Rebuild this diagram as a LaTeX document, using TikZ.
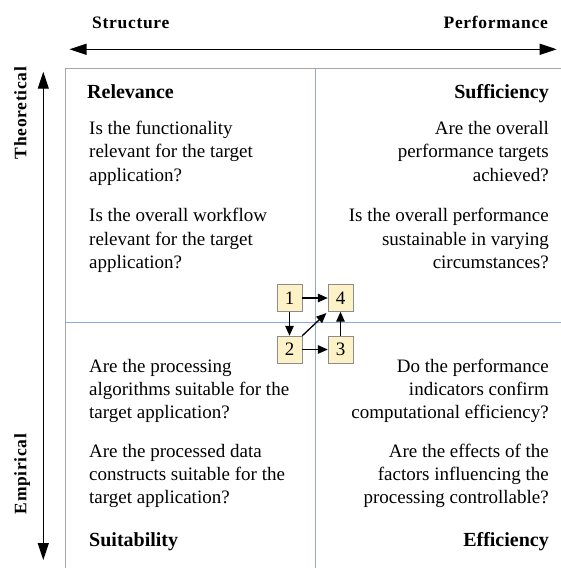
\documentclass[tikz,border=0pt]{standalone}
\usepackage{fontspec}
\setmainfont{Liberation Serif}
\usetikzlibrary{arrows.meta, positioning}

\definecolor{framegray}{RGB}{165,165,165}
\definecolor{divblue}{RGB}{140,170,225}
\definecolor{boxfill}{RGB}{253,241,200}
\definecolor{boxline}{RGB}{140,140,140}

\tikzset{
  axislabel/.style={font=\fontsize{17.5}{20}\selectfont\bfseries\addfontfeature{LetterSpace=4}, inner sep=0pt},
  quadtitle/.style={font=\fontsize{20}{24}\selectfont\bfseries, inner sep=0pt},
  question/.style={font=\fontsize{19}{23.3}\selectfont, inner sep=0pt},
  stepbox/.style={draw=boxline, fill=boxfill, minimum width=25pt, minimum height=27pt, inner sep=0pt, font=\fontsize{19}{22}\selectfont},
  flow/.style={-{Triangle[length=10pt,width=8.5pt]}, line width=1.3pt},
  axisarrow/.style={{Triangle[length=17pt,width=11pt]}-{Triangle[length=17pt,width=11pt]}, line width=1.2pt}
}

\begin{document}
\begin{tikzpicture}[x=1pt,y=-1pt]
\useasboundingbox (0,0) rectangle (561,568);

% frame and dividers
\draw[divblue] (315,68.5)--(315,569);
\draw[divblue] (65,322)--(562,322);
\draw[framegray] (562,68.5) -- (65,68.5) -- (65,569);

% axes
\coordinate (xleft) at (69.5,49.3);
\coordinate (xright) at (556.7,49.3);
\draw[axisarrow] (xleft)--(xright);
\node[axislabel, anchor=base west] (structure) at (92,28){Structure};
\node[axislabel, anchor=base east] (performance) at (548,28){Performance};

\coordinate (ytop) at (43.3,71.7);
\coordinate (ybottom) at (43.3,560);
\draw[axisarrow] (ytop)--(ybottom);
\node[axislabel, anchor=base, rotate=90] (theoretical) at (26.5,113){Theoretical};
\node[axislabel, anchor=base, rotate=90] (empirical) at (26.5,474){Empirical};

% upper left (base = last line)
\node[quadtitle, anchor=base west] (relevance) at (87,98.5){Relevance};
\node[question, anchor=base west, align=left] (rel_a) at (89,181){Is the functionality\\relevant for the target\\application?};
\node[question, anchor=base west, align=left] (rel_b) at (89,268.3){Is the overall workflow\\relevant for the target\\application?};

% upper right
\node[quadtitle, anchor=base east] (sufficiency) at (549,98.5){Sufficiency};
\node[question, anchor=base east, align=right] (suf_a) at (549,181){Are the overall\\performance targets\\achieved?};
\node[question, anchor=base east, align=right] (suf_b) at (549,268.3){Is the overall performance\\sustainable in varying\\circumstances?};

% lower left
\node[question, anchor=base west, align=left] (sui_a) at (89,418.6){Are the processing\\algorithms suitable for the\\target application?};
\node[question, anchor=base west, align=left] (sui_b) at (89,503.6){Are the processed data\\constructs suitable for the\\target application?};
\node[quadtitle, anchor=base west] (suitability) at (89,546){Suitability};

% lower right
\node[question, anchor=base east, align=right] (eff_a) at (549,418.6){Do the performance\\indicators confirm\\computational efficiency?};
\node[question, anchor=base east, align=right] (eff_b) at (549,503.6){Are the effects of the\\factors influencing the\\processing controllable?};
\node[quadtitle, anchor=base east] (efficiency) at (549,546){Efficiency};

% steps
\node[stepbox] (s1) at (289.5,298){1};
\node[stepbox] (s4) at (340.5,298){4};
\node[stepbox] (s2) at (289.5,349.5){2};
\node[stepbox] (s3) at (340.5,349.5){3};

\draw[flow] (s1)--(s4);
\draw[flow] (s1)--(s2);
\draw[flow] (s2)--(s3);
\draw[flow] (s3)--(s4);
\draw[flow, shorten >=2pt] (s2.north east)--(s4.south west);
\end{tikzpicture}
\end{document}
